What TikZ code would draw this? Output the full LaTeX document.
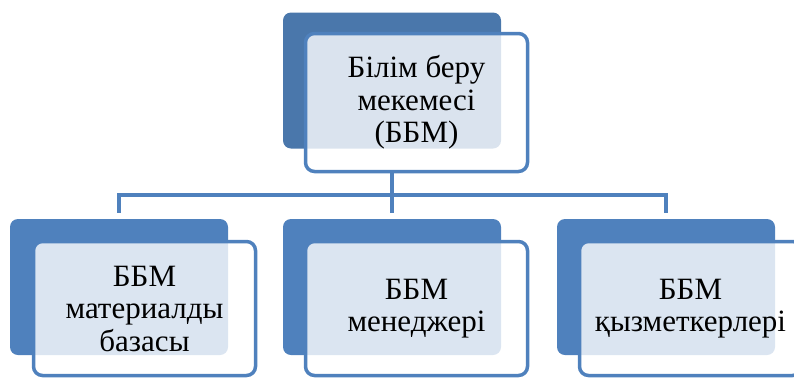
\documentclass[tikz,border=0pt]{standalone}
\usepackage{fontspec}
\setmainfont{Liberation Serif}
\usetikzlibrary{positioning}
\definecolor{topblue}{HTML}{4A77AB}
\definecolor{boxblue}{HTML}{4F81BD}
\definecolor{lineblue}{HTML}{4F81BD}

\begin{document}
\begin{tikzpicture}[
  x=1pt, y=-1pt,
  backbox/.style={rectangle, rounded corners=8pt, fill=#1, inner sep=0pt,
    minimum width=218pt, minimum height=136pt},
  frontbox/.style={rectangle, rounded corners=9pt, draw=lineblue, line width=3.5pt,
    fill=white, fill opacity=0.8, text opacity=1, align=center,
    minimum width=222pt, minimum height=136pt,
    font=\fontsize{31}{32.5}\selectfont},
  link/.style={draw=lineblue, line width=3.5pt}
]
  \useasboundingbox (0,0) rectangle (794,381);
  \clip (0,0) rectangle (794,381);

  % back boxes
  \node[backbox=topblue] (topback) at (392, 80.5) {};
  \node[backbox=boxblue] (leftback) at (119, 287) {};
  \node[backbox=boxblue] (midback) at (392, 287) {};
  \node[backbox=boxblue] (rightback) at (666, 287) {};

  % front boxes
  \node[frontbox, minimum height=138pt] (top) at (416.5, 102.5)
    {Білім беру\\мекемесі\\(ББМ)};
  \node[frontbox, minimum height=134pt] (left) at (144.5, 308.5)
    {ББМ\\материалды\\базасы};
  \node[frontbox, minimum height=134pt] (mid) at (416.5, 308.5)
    {ББМ\\менеджері};
  \node[frontbox, minimum height=134pt] (right) at (690.5, 308.5)
    {ББМ\\қызметкерлері};

  % connectors
  \coordinate (bus) at (392, 195);
  \draw[link] (topback.south |- top.south) -- (bus);
  \draw[link, shorten >=6pt] (bus) -| (leftback.north);
  \draw[link, shorten >=6pt] (bus) -- (midback.north);
  \draw[link, shorten >=6pt] (bus) -| (rightback.north);
\end{tikzpicture}
\end{document}
